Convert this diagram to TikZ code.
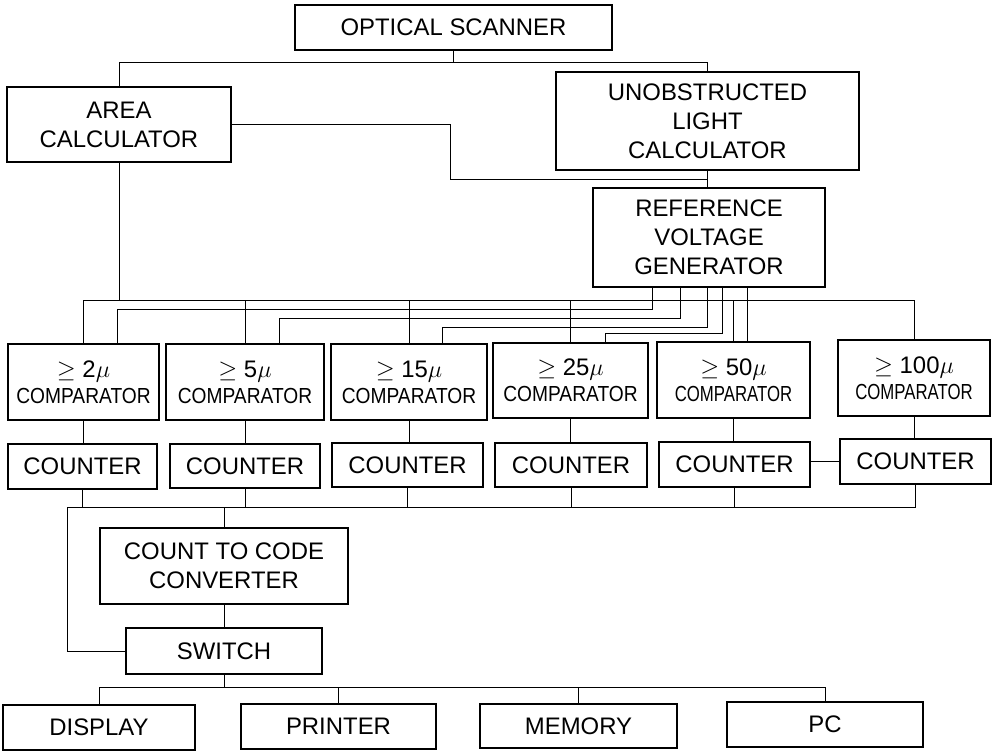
\documentclass[tikz,border=0pt]{standalone}
\usepackage{fontspec}
\setmainfont{Liberation Sans}
\newfontfamily\narrowfont[FakeStretch=0.88]{Liberation Sans}
\newfontfamily\narrowerfont[FakeStretch=0.77]{Liberation Sans}
\usetikzlibrary{calc}
\tikzset{
  blk/.style={draw, line width=1.1pt, inner sep=0pt, align=center, font=\fontsize{17}{20.5}\selectfont},
  wh/.style 2 args={minimum width=#1*0.025cm, minimum height=#2*0.025cm},
  wire/.style={line width=0.7pt},
}
\newcommand{\cmplabel}[2]{$\geq$ #1$\mu$\\[-2pt]{#2\fontsize{15.5}{18}\selectfont COMPARATOR}}

\begin{document}
\begin{tikzpicture}[x=0.025cm, y=-0.025cm]
    \useasboundingbox (0,0) rectangle (996,751);
    % top row
    \node[blk, wh={317}{45}] (scan) at (453.5,27.5) {OPTICAL SCANNER};
    \node[blk, wh={224}{75}] (area) at (119,124.5) {AREA\\CALCULATOR};
    \node[blk, wh={303}{98}] (unobs) at (707.5,121) {UNOBSTRUCTED\\LIGHT\\CALCULATOR};
    \node[blk, wh={232}{99}] (rvg) at (709,237.5) {REFERENCE\\VOLTAGE\\GENERATOR};
    % comparators
    \node[blk, wh={151}{76}] (cmp1) at (83.5,382) {\cmplabel{2}{\narrowfont}};
    \node[blk, wh={158}{76}] (cmp2) at (245,382) {\cmplabel{5}{\narrowfont}};
    \node[blk, wh={156}{76}] (cmp3) at (409,382) {\cmplabel{15}{\narrowfont}};
    \node[blk, wh={155}{75}] (cmp4) at (570.5,380.5) {\cmplabel{25}{\narrowfont}};
    \node[blk, wh={153}{76}] (cmp5) at (733.5,380) {\cmplabel{50}{\narrowerfont}};
    \node[blk, wh={152}{76}] (cmp6) at (914,378) {\cmplabel{100}{\narrowerfont}};
    % counters
    \node[blk, wh={149}{45}] (cnt1) at (82.5,466.5) {COUNTER};
    \node[blk, wh={150}{44}] (cnt2) at (245,466) {COUNTER};
    \node[blk, wh={151}{44}] (cnt3) at (407.5,465) {COUNTER};
    \node[blk, wh={152}{44}] (cnt4) at (571,465) {COUNTER};
    \node[blk, wh={151}{45}] (cnt5) at (734.5,464.5) {COUNTER};
    \node[blk, wh={151}{45}] (cnt6) at (915.5,461.5) {COUNTER};
    % converter, switch and outputs
    \node[blk, wh={248}{76}] (ctc) at (224,566) {COUNT TO CODE\\CONVERTER};
    \node[blk, wh={196}{46}] (sw) at (224,651) {SWITCH};
    \node[blk, wh={192}{45}] (disp) at (99,727.5) {DISPLAY};
    \node[blk, wh={195}{45}] (prn) at (338.5,726.5) {PRINTER};
    \node[blk, wh={197}{44}] (mem) at (578.5,726) {MEMORY};
    \node[blk, wh={196}{45}] (pc) at (825,724.5) {PC};

    % scanner to calculators
    \coordinate (sb) at (0,62);
    \draw[wire] (area.north) |- (sb -| unobs.north) -- (unobs.north);
    \draw[wire] (scan.south) -- (scan.south |- sb);
    % calculators to reference generator
    \coordinate (ak) at (450,179);
    \draw[wire] (area.east) -| (ak) -- (ak -| unobs.south);
    \draw[wire] (unobs.south) -- (unobs.south |- rvg.north);
    % area bus to comparators
    \coordinate (ab) at (0,300);
    \draw[wire] (area.south) -- (area.south |- ab);
    \draw[wire] (cmp1.north) |- (ab -| cmp6.north) -- (cmp6.north);
    \foreach \n in {2,...,5}
      \draw[wire] (cmp\n.north) -- (cmp\n.north |- ab);
    % reference lines
    \foreach \n/\dx/\y/\cx in {1/-57/309/34, 2/-29/318/34, 3/-2/327/33, 4/13/333/35} {
      \coordinate (t) at ($(cmp\n.north)+(\cx,0)$);
      \coordinate (h) at (0,\y);
      \draw[wire] ($(rvg.south)+(\dx,0)$) coordinate (s) -- (s |- h) -| (t);
    }
    \coordinate (t5) at ($(cmp5.north)+(13.5,0)$);
    \draw[wire] (t5 |- rvg.south) -- (t5);
    % comparators to counters
    \foreach \n in {1,...,6}
      \draw[wire] (cmp\n.south) -- (cmp\n.south |- cnt\n.north);
    \draw[wire] (cnt5.east |- cnt6.west) -- (cnt6.west);
    % counter bus
    \coordinate (cb) at (67,507);
    \draw[wire] (sw.west) -| (cb) -- (cb -| cnt6.south) -- (cnt6.south);
    \foreach \n in {1,...,5}
      \draw[wire] (cnt\n.south) -- (cnt\n.south |- cb);
    \draw[wire] (ctc.north) -- (ctc.north |- cb);
    \draw[wire] (ctc.south) -- (sw.north);
    % switch to outputs
    \coordinate (ob) at (0,687);
    \draw[wire] (sw.south) -- (sw.south |- ob);
    \draw[wire] (disp.north) |- (ob -| pc.north) -- (pc.north);
    \draw[wire] (prn.north) -- (prn.north |- ob);
    \draw[wire] (mem.north) -- (mem.north |- ob);
\end{tikzpicture}
\end{document}
